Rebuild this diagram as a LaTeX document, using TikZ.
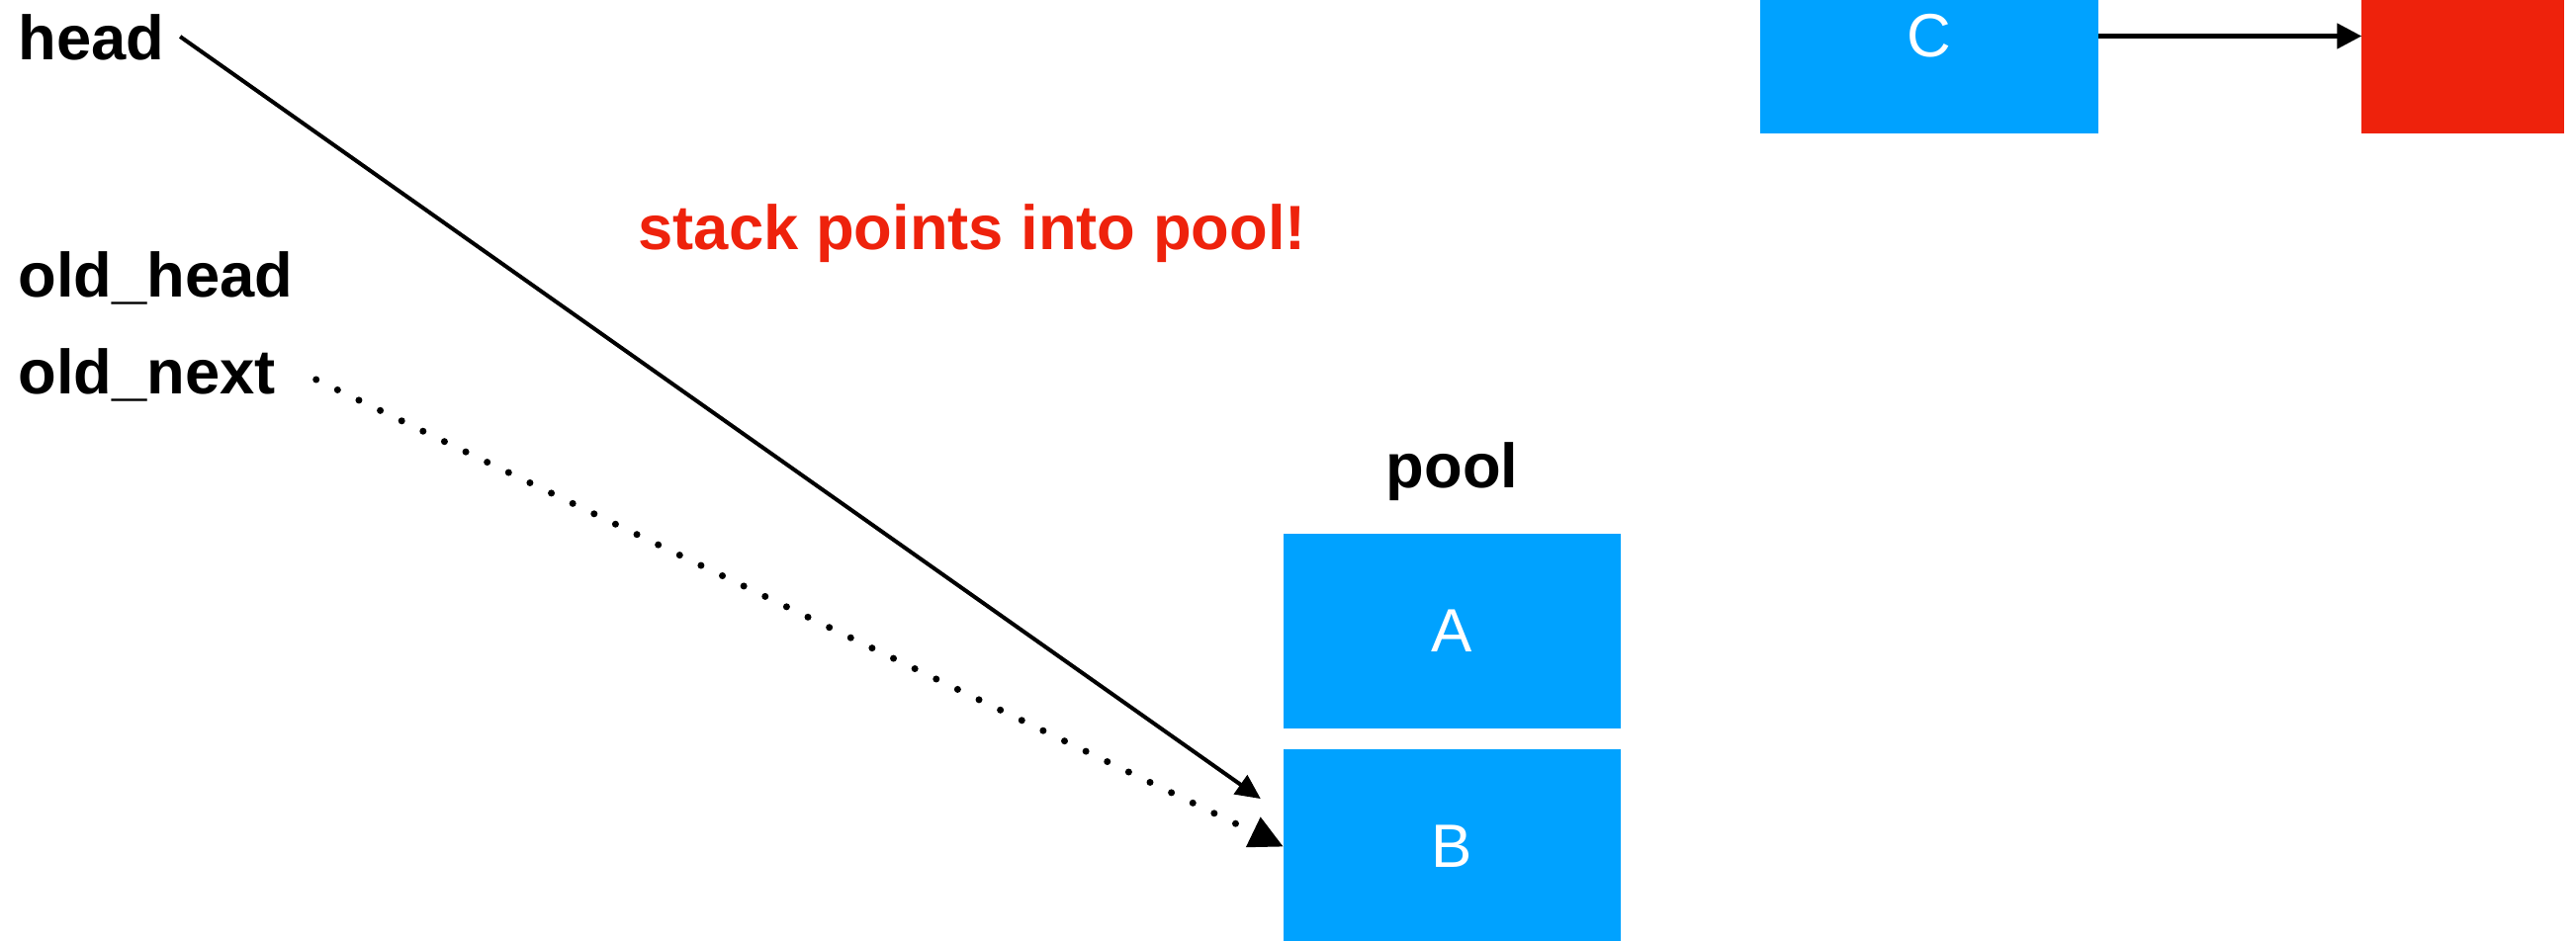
\documentclass[tikz,border=0pt]{standalone}
\usepackage{fontspec}
\setmainfont{Liberation Sans}
\usetikzlibrary{arrows.meta, positioning}
\definecolor{poolBlue}{RGB}{0,162,255}
\definecolor{alertRed}{RGB}{238,34,12}

\begin{document}
\begin{tikzpicture}[
    x=0.01cm, y=-0.01cm,
    node distance=0.21cm and 2.66cm,
    slot/.style={rectangle, fill=poolBlue, text=white, inner sep=0, outer sep=0, minimum width=3.41cm, minimum height=1.97cm, font=\fontsize{17.6}{21}\selectfont},
    lbl/.style={inner sep=0, font=\bfseries\fontsize{18}{21}\selectfont},
    arrow/.style={-{Triangle[length=0.25cm, width=0.23cm]}, line width=0.04cm},
    dotarrow/.style={-{Triangle[length=0.34cm, width=0.32cm]}, line width=0.07cm, line cap=round, dash pattern=on 0pt off 0.24cm}
]
\useasboundingbox (0,0) rectangle (2605,951);
\clip (0,0) rectangle (2605,951);

% pointers on the left
\node[lbl, anchor=base west] (head) at (18,60) {head};
\node[lbl, anchor=base west] (oldhead) at (18,300) {old\_head};
\node[lbl, anchor=base west] (oldnext) at (18,398) {old\_next};
\node[lbl, anchor=base west, text=alertRed] (warn) at (645,252) {stack points into pool!};

% the pool
\node[slot] (A) at (1468.5,638.5) {A};
\node[slot, below=of A] (B) {B};
\node[lbl, above=0.33cm of A] (pool) {pool};

% the stack
\node[slot, minimum width=3.42cm] (C) at (1951,36.5) {C};
\node[slot, fill=alertRed, minimum width=2.05cm, right=of C] (tail) {};

\draw[arrow] ([xshift=0.15cm, yshift=0.23cm]head.base east) -- ([xshift=-0.23cm, yshift=-0.5cm]B.north west);
\draw[dotarrow] ([xshift=0.4cm, yshift=0.14cm]oldnext.base east) -- (B.west);
\draw[-{Triangle[length=0.25cm, width=0.25cm]}, line width=0.05cm] (C) -- (tail);

\end{tikzpicture}
\end{document}
